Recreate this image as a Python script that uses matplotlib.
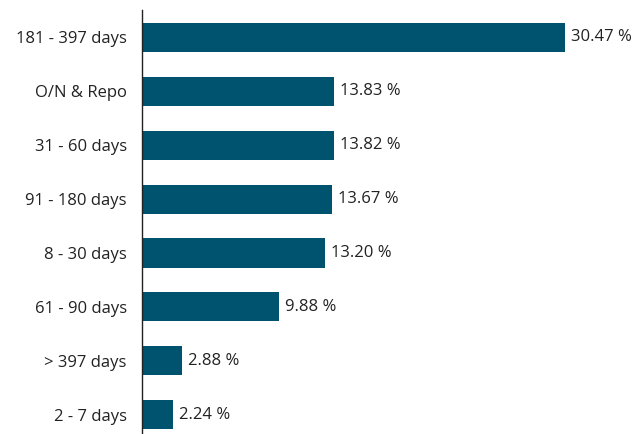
import matplotlib
matplotlib.use("Agg")
import matplotlib.pyplot as plt

categories = ["181 - 397 days", "O/N & Repo", "31 - 60 days", "91 - 180 days",
              "8 - 30 days", "61 - 90 days", "> 397 days", "2 - 7 days"]
shares = [30.47, 13.83, 13.82, 13.67, 13.20, 9.88, 2.88, 2.24]

plt.rcParams['font.family'] = ['Open Sans', 'DejaVu Sans']

fig = plt.figure(figsize=(6.36, 4.34), dpi=100)
ax = fig.add_axes([142 / 636, 0, 494 / 636, 424 / 434])

pos = list(range(len(categories)))
ax.barh(pos, shares, height=0.54, color='#00536f')

for p, v in zip(pos, shares):
    ax.text(v + 0.42, p, f"{v:.2f} %", va='center', ha='left',
            fontsize=12, color='#222222')

ax.set_xlim(0, 494 / 13.88)
ax.set_ylim(7.36, -0.51)
ax.set_yticks(pos)
ax.set_yticklabels(categories, fontsize=12, color='#222222')
ax.tick_params(axis='y', length=0, pad=11)
ax.set_xticks([])
for side in ['top', 'right', 'bottom']:
    ax.spines[side].set_visible(False)
ax.spines['left'].set_color('#222222')
ax.spines['left'].set_linewidth(1)

fig.savefig("out.png", dpi=100)
